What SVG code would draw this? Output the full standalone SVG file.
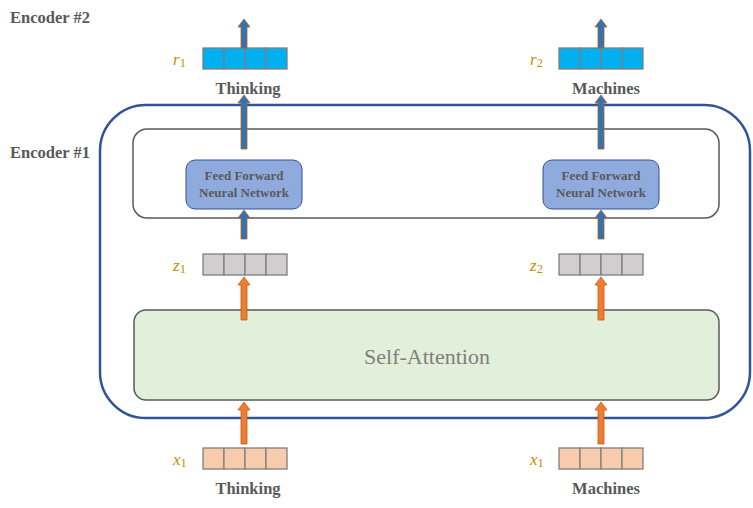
<svg xmlns="http://www.w3.org/2000/svg" width="753" height="508" viewBox="0 0 753 508">
<style>
.lbl{font-family:"Liberation Serif",serif;font-weight:bold;font-size:16.5px;fill:#595959}
.ffn{font-family:"Liberation Serif",serif;font-weight:bold;font-size:13px;fill:#595959}
.var{font-family:"Liberation Serif",serif;font-style:italic;font-size:17px;fill:#BF9000}
.sub{font-style:normal;font-size:12.5px}
.cell{stroke:#7F7F7F;stroke-width:1.3}
.r{fill:#00B0F0}.z{fill:#D0CECE}.x{fill:#F8CBAD}
.ab{fill:#2E75B6;stroke:#C55A11;stroke-width:0.8}
.ao{fill:#ED7D31;stroke:#C55A11;stroke-width:0.8}
</style>
<defs>
<g id="vec">
<rect x="0" y="0" width="21" height="21"/>
<rect x="21" y="0" width="21" height="21"/>
<rect x="42" y="0" width="21" height="21"/>
<rect x="63" y="0" width="21" height="21"/>
</g>
</defs>
<text class="lbl" x="10" y="23">Encoder #2</text>
<text class="lbl" x="10" y="158">Encoder #1</text>
<g id="encoder1">
<rect x="100" y="105" width="650" height="313" rx="46" fill="none" stroke="#2F5597" stroke-width="2.5"/>
</g>
<g id="ffn-container">
<rect x="133" y="129" width="586" height="89" rx="14" fill="none" stroke="#595959" stroke-width="1.5"/>
</g>
<g id="ffn1">
<rect x="186" y="160" width="116" height="49" rx="9" fill="#8FAADC" stroke="#2F5597" stroke-width="1"/>
<text class="ffn" x="244" y="180" text-anchor="middle">Feed Forward</text>
<text class="ffn" x="244" y="197" text-anchor="middle">Neural Network</text>
</g>
<g id="ffn2">
<rect x="543" y="160" width="116" height="49" rx="9" fill="#8FAADC" stroke="#2F5597" stroke-width="1"/>
<text class="ffn" x="601" y="180" text-anchor="middle">Feed Forward</text>
<text class="ffn" x="601" y="197" text-anchor="middle">Neural Network</text>
</g>
<g id="self-attention">
<rect x="134" y="310" width="585" height="90" rx="12" fill="#E2EFDA" stroke="#595959" stroke-width="1.5"/>
<text x="427" y="364" text-anchor="middle" font-family="Liberation Serif, serif" font-size="22" fill="#7F7F7F">Self-Attention</text>
</g>
<g id="r1"><use href="#vec" x="203" y="48" class="cell r"/><text class="var" x="173" y="65">r<tspan class="sub" dy="2">1</tspan></text></g>
<g id="r2"><use href="#vec" x="559" y="48" class="cell r"/><text class="var" x="530" y="65">r<tspan class="sub" dy="2">2</tspan></text></g>
<g id="z1"><use href="#vec" x="203" y="254" class="cell z"/><text class="var" x="173" y="271">z<tspan class="sub" dy="2">1</tspan></text></g>
<g id="z2"><use href="#vec" x="559" y="254" class="cell z"/><text class="var" x="530" y="271">z<tspan class="sub" dy="2">2</tspan></text></g>
<g id="x1"><use href="#vec" x="203" y="448" class="cell x"/><text class="var" x="173" y="465">x<tspan class="sub" dy="2">1</tspan></text></g>
<g id="x2"><use href="#vec" x="559" y="448" class="cell x"/><text class="var" x="530" y="465">x<tspan class="sub" dy="2">1</tspan></text></g>
<text class="lbl" x="248" y="94" text-anchor="middle">Thinking</text>
<text class="lbl" x="606" y="94" text-anchor="middle">Machines</text>
<text class="lbl" x="248" y="494" text-anchor="middle">Thinking</text>
<text class="lbl" x="606" y="494" text-anchor="middle">Machines</text>
<g id="connectors">
<path class="ab" d="M241,48 V27 H238 L244,19 L250,27 H247 V48 Z"/>
<path class="ab" d="M598,48 V27 H595 L601,19 L607,27 H604 V48 Z"/>
<path class="ab" d="M241,149 V103 H238 L244,95 L250,103 H247 V149 Z"/>
<path class="ab" d="M598,149 V103 H595 L601,95 L607,103 H604 V149 Z"/>
<path class="ab" d="M241,239 V218 H238 L244,210 L250,218 H247 V239 Z"/>
<path class="ab" d="M598,239 V218 H595 L601,210 L607,218 H604 V239 Z"/>
<path class="ao" d="M241,320 V285 H238 L244,277 L250,285 H247 V320 Z"/>
<path class="ao" d="M598,320 V285 H595 L601,277 L607,285 H604 V320 Z"/>
<path class="ao" d="M241,444 V410 H238 L244,402 L250,410 H247 V444 Z"/>
<path class="ao" d="M598,444 V410 H595 L601,402 L607,410 H604 V444 Z"/>
</g>
</svg>
